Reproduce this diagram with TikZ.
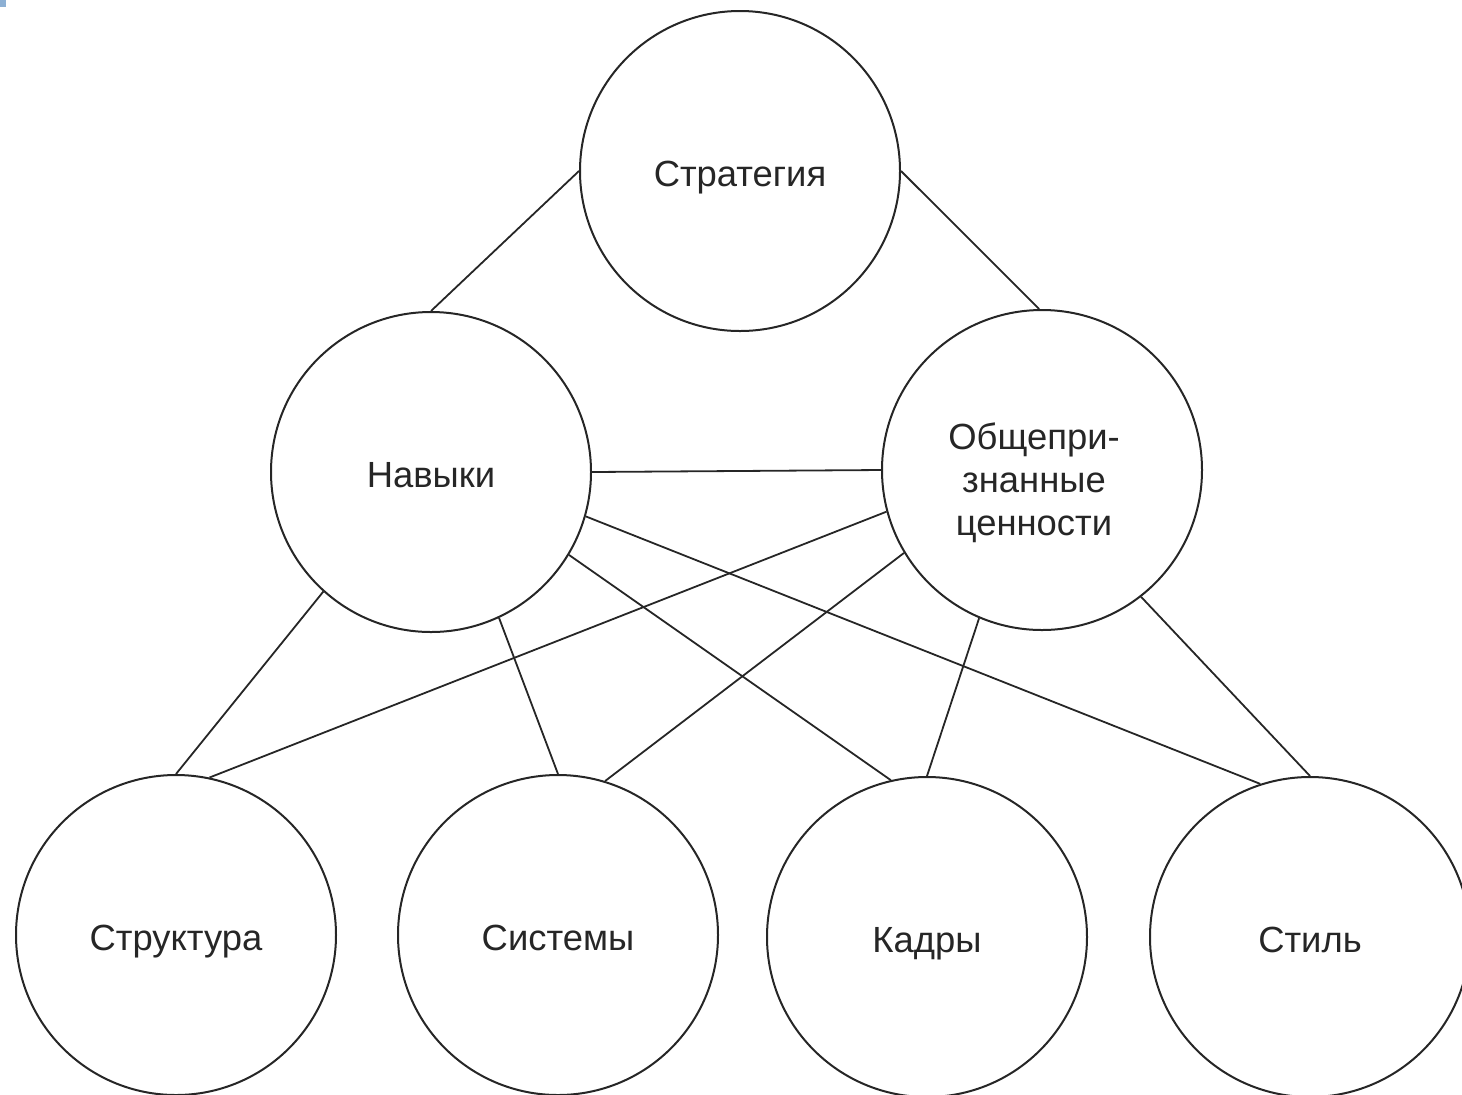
\documentclass[tikz,border=0pt]{standalone}
\usepackage{fontspec}
\setmainfont{Liberation Sans}
\definecolor{inkc}{HTML}{262626}
\definecolor{markc}{HTML}{8DB0D4}
\begin{document}
\begin{tikzpicture}[x=0.5pt,y=-0.5pt,
  bubble/.style={circle, draw=inkc, line width=1pt, minimum size=160pt, inner sep=0pt,
    font=\fontsize{18.2}{21.5}\selectfont, text=inkc, align=center,
    text height=15pt, text depth=0pt},
  link/.style={draw=inkc, line width=0.9pt}]
\useasboundingbox (0,0) rectangle (1462,1094);
\fill[markc] (0,0) rectangle (6,7);
\node[bubble] (str) at (740,171) {Стратегия};
\node[bubble] (nav) at (431,472) {Навыки};
\node[bubble, text height=65pt] (val) at (1042,470) {\hspace*{-8pt}Общепри-\\\hspace*{-8pt}знанные\\\hspace*{-8pt}ценности};
\node[bubble] (stc) at (176,935) {Структура};
\node[bubble] (sys) at (558,935) {Системы};
\node[bubble] (kad) at (927,937) {Кадры};
\node[bubble] (stl) at (1310,937) {Стиль};
\draw[link] (str.180) -- (nav.90);
\draw[link] (str.0) -- (val.91);
\draw[link] (nav.0) -- (val.180);
\draw[link] (nav.228) -- (stc.90);
\draw[link] (val.195) -- (stc.78);
\draw[link] (nav.295) -- (sys.90);
\draw[link] (val.211) -- (sys.73);
\draw[link] (nav.329) -- (kad.103);
\draw[link] (val.247) -- (kad.90);
\draw[link] (nav.344) -- (stl.108);
\draw[link] (val.308) -- (stl.90);
\end{tikzpicture}
\end{document}
